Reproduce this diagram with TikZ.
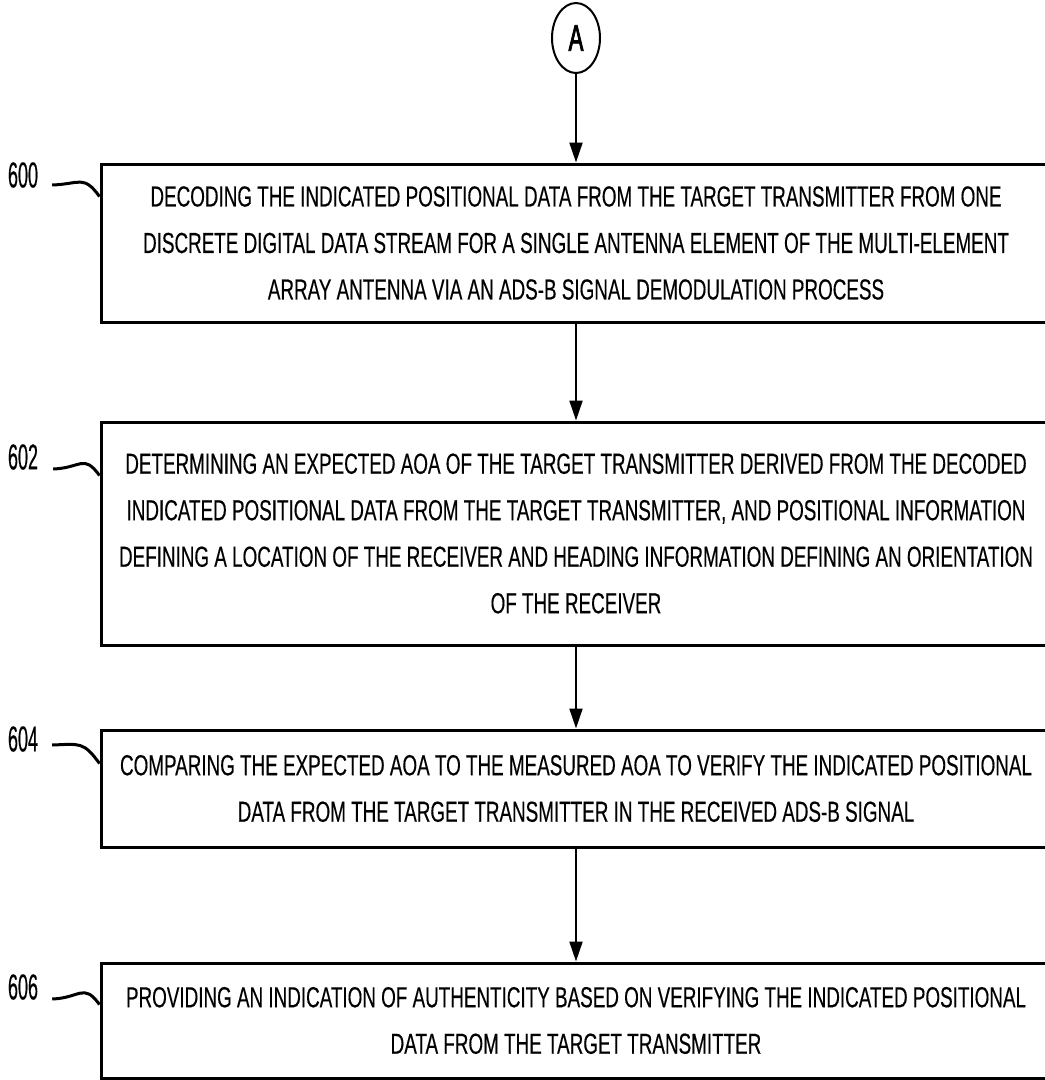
\documentclass[tikz,border=0pt]{standalone}
\usepackage{fontspec}
\setmainfont{Liberation Sans}
\newfontfamily\stepfont[FakeStretch=0.65,FakeBold=0.3]{Liberation Sans}
\newfontfamily\reffont[FakeStretch=0.50,FakeBold=0.3]{Liberation Sans}
\newfontfamily\connfont[FakeStretch=0.60,FakeBold=2]{Liberation Sans}
\usetikzlibrary{arrows.meta,shapes.geometric}
\tikzset{
  stepbox/.style={draw, line width=3pt, rectangle, minimum width=950pt,
    align=center, inner sep=0pt,
    font=\stepfont\fontsize{29}{46.5}\selectfont},
  flow/.style={line width=2pt, -{Triangle[length=20pt,width=13pt]}},
  refnum/.style={font=\reffont\fontsize{36}{36}\selectfont, inner sep=0pt},
  hook/.style={line width=3pt},
  connector/.style={draw, ellipse, line width=2pt, minimum width=48pt,
    minimum height=70pt, inner sep=0pt,
    font=\connfont\fontsize{37}{37}\selectfont}
}
\begin{document}
\begin{tikzpicture}[x=1pt,y=-1pt]
\useasboundingbox (0,0) rectangle (1045,1080);

% off-page connector
\node[connector] (A) at (576,38) {A};

% process steps
\node[stepbox, minimum height=158pt] (s600) at (576,243)
  {DECODING THE INDICATED POSITIONAL DATA FROM THE TARGET TRANSMITTER FROM ONE\\
   DISCRETE DIGITAL DATA STREAM FOR A SINGLE ANTENNA ELEMENT OF THE MULTI-ELEMENT\\
   ARRAY ANTENNA VIA AN ADS-B SIGNAL DEMODULATION PROCESS};
\node[stepbox, minimum height=223pt] (s602) at (576,533.5)
  {DETERMINING AN EXPECTED AOA OF THE TARGET TRANSMITTER DERIVED FROM THE DECODED\\
   INDICATED POSITIONAL DATA FROM THE TARGET TRANSMITTER, AND POSITIONAL INFORMATION\\
   DEFINING A LOCATION OF THE RECEIVER AND HEADING INFORMATION DEFINING AN ORIENTATION\\
   OF THE RECEIVER};
\node[stepbox, minimum height=117pt] (s604) at (576,788.5)
  {COMPARING THE EXPECTED AOA TO THE MEASURED AOA TO VERIFY THE INDICATED POSITIONAL\\
   DATA FROM THE TARGET TRANSMITTER IN THE RECEIVED ADS-B SIGNAL};
\node[stepbox, minimum height=115pt] (s606) at (576,1020.5)
  {PROVIDING AN INDICATION OF AUTHENTICITY BASED ON VERIFYING THE INDICATED POSITIONAL\\
   DATA FROM THE TARGET TRANSMITTER};

% flow arrows
\draw[flow] (A) -- (s600);
\draw[flow] (s600) -- (s602);
\draw[flow] (s602) -- (s604);
\draw[flow] (s604) -- (s606);

% reference numerals with leader hooks
\node[refnum] (r600) at (23,175) {600};
\node[refnum] (r602) at (23,457) {602};
\node[refnum] (r604) at (23,739) {604};
\node[refnum] (r606) at (23,987) {606};

\coordinate (h600) at ([yshift=-34pt]s600.north west);
\coordinate (h602) at ([yshift=-55pt]s602.north west);
\coordinate (h604) at ([yshift=-35pt]s604.north west);
\coordinate (h606) at ([yshift=-43pt]s606.north west);

\draw[hook] ([xshift=14pt,yshift=-10pt]r600.east) .. controls +(28,-1) and +(-16,-22) .. (h600);
\draw[hook] ([xshift=15pt,yshift=-12pt]r602.east) .. controls +(28,-1) and +(-16,-22) .. (h602);
\draw[hook] ([xshift=14pt,yshift=-6pt]r604.east) .. controls +(28,-1) and +(-16,-22) .. (h604);
\draw[hook] ([xshift=14pt,yshift=-12pt]r606.east) .. controls +(28,-1) and +(-16,-22) .. (h606);
\end{tikzpicture}
\end{document}
